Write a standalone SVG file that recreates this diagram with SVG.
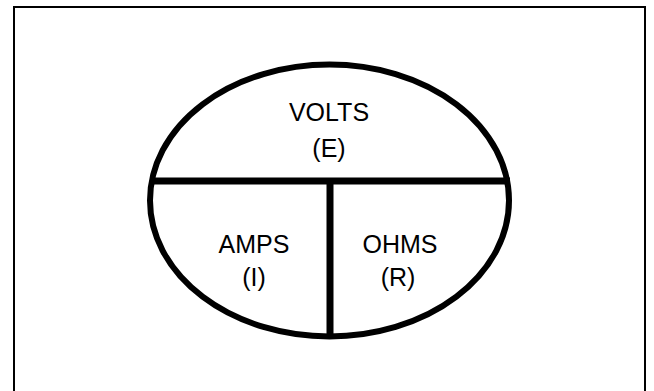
<svg xmlns="http://www.w3.org/2000/svg" width="654" height="391" viewBox="0 0 654 391">
<style>
.t{font-family:"Liberation Sans",Arial,sans-serif;font-size:25px;fill:#000;text-anchor:middle}
.s{fill:none;stroke:#000}
</style>
<rect x="0" y="0" width="654" height="391" fill="#fff"/>
<rect class="s" x="14" y="7" width="631" height="390" stroke-width="2"/>
<g id="connectors">
<line class="s" x1="150" y1="181" x2="510" y2="181" stroke-width="7"/>
<line class="s" x1="330" y1="181" x2="330" y2="337" stroke-width="7"/>
</g>
<g id="ellipse">
<ellipse class="s" cx="329.5" cy="200.5" rx="179.5" ry="136" stroke-width="6"/>
</g>
<g id="volts">
<text class="t" x="329" y="121">VOLTS</text>
<text class="t" x="329" y="157">(E)</text>
</g>
<g id="amps">
<text class="t" x="254" y="253">AMPS</text>
<text class="t" x="254" y="286">(I)</text>
</g>
<g id="ohms">
<text class="t" x="400" y="253">OHMS</text>
<text class="t" x="398" y="286">(R)</text>
</g>
</svg>
